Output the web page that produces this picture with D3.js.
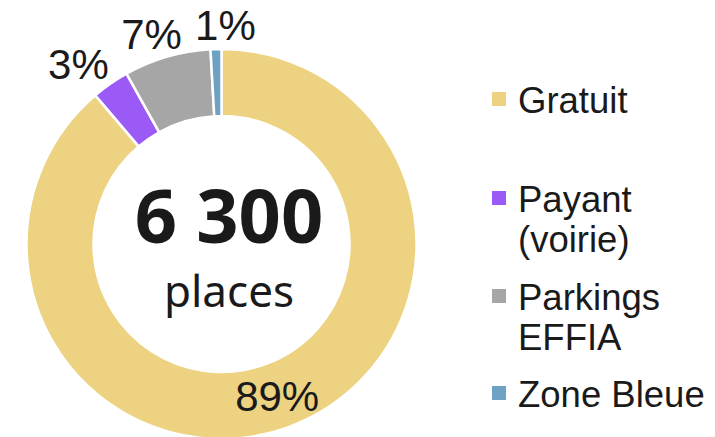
<!DOCTYPE html>
<html>
<head>
<meta charset="utf-8">
<script src="https://cdn.jsdelivr.net/npm/d3@7"></script>
<style>
  body { margin: 0; background: #fff; }
  svg { display: block; }
</style>
</head>
<body>
<svg width="715" height="437"></svg>
<script>
const categories = ["Gratuit", "Payant (voirie)", "Parkings EFFIA", "Zone Bleue"];
const legendLines = [["Gratuit"], ["Payant", "(voirie)"], ["Parkings", "EFFIA"], ["Zone Bleue"]];
const shares = [88.8, 3.1, 7.2, 0.9];
const pctLabels = ["89%", "3%", "7%", "1%"];
const colors = ["#EDD282", "#9B5AF6", "#A6A6A6", "#6EA2C4"];
const total = "6 300";
const unit = "places";

const svg = d3.select("svg");
const cx = 221.5, cy = 244;
const outerR = 195, innerR = 128;

const g = svg.append("g")
    .attr("transform", `translate(${cx}, ${cy})`);

const pie = d3.pie().sort(null).value(d => d);
const arcs = pie(shares);

const arc = d3.arc().innerRadius(innerR).outerRadius(outerR);

g.selectAll("path")
    .data(arcs)
    .enter().append("path")
        .attr("d", arc)
        .attr("fill", (d, i) => colors[i])
        .attr("stroke", "#fff")
        .attr("stroke-width", 2.5)
        .attr("stroke-linejoin", "miter");

// labels: biggest slice inside the ring, small ones outside
const labelFont = "'Liberation Sans', Arial, sans-serif";
g.selectAll("text.pct")
    .data(arcs)
    .enter().append("text")
        .attr("class", "pct")
        .attr("font-family", labelFont)
        .attr("font-size", 42)
        .attr("fill", "#1a1a1a")
        .attr("text-anchor", "middle")
        .attr("dy", "0.36em")
        .attr("transform", (d, i) => {
            const a = (d.startAngle + d.endAngle) / 2;
            if (i === 0) {
                const [x, y] = arc.centroid(d);
                return `translate(${x}, ${y})`;
            }
            const r = 219;
            // small slices near the top get pushed sideways, like excel does
            const x = Math.sin(a) * r + Math.sin(a) * 32 + (Math.abs(a - 2 * Math.PI) < 0.1 ? 11 : 0);
            const y = -Math.cos(a) * r;
            return `translate(${x}, ${y})`;
        })
        .text((d, i) => pctLabels[i]);

// centre text
const centerFont = "'Noto Sans', 'Open Sans', sans-serif";
svg.append("text")
    .attr("x", 229).attr("y", 243)
    .attr("text-anchor", "middle")
    .attr("font-family", centerFont)
    .attr("font-weight", "bold")
    .attr("font-size", 74)
    .attr("fill", "#1a1a1a")
    .text(total);

svg.append("text")
    .attr("x", 229).attr("y", 307)
    .attr("text-anchor", "middle")
    .attr("font-family", centerFont)
    .attr("font-size", 44)
    .attr("fill", "#1a1a1a")
    .text(unit);

// legend
const legendY = [113, 212, 310, 407];
const legend = svg.append("g");
const items = legend.selectAll("g")
    .data(categories)
    .enter().append("g")
        .attr("transform", (d, i) => `translate(492, ${legendY[i]})`);

items.append("rect")
    .attr("x", 0).attr("y", -21)
    .attr("width", 14).attr("height", 14)
    .attr("fill", (d, i) => colors[i]);

items.append("text")
    .attr("x", 26)
    .attr("font-family", labelFont)
    .attr("font-size", 36.5)
    .attr("fill", "#1a1a1a")
    .selectAll("tspan")
    .data((d, i) => legendLines[i])
    .enter().append("tspan")
        .attr("x", 26)
        .attr("dy", (d, j) => j === 0 ? 0 : 40)
        .text(d => d);
</script>
</body>
</html>
